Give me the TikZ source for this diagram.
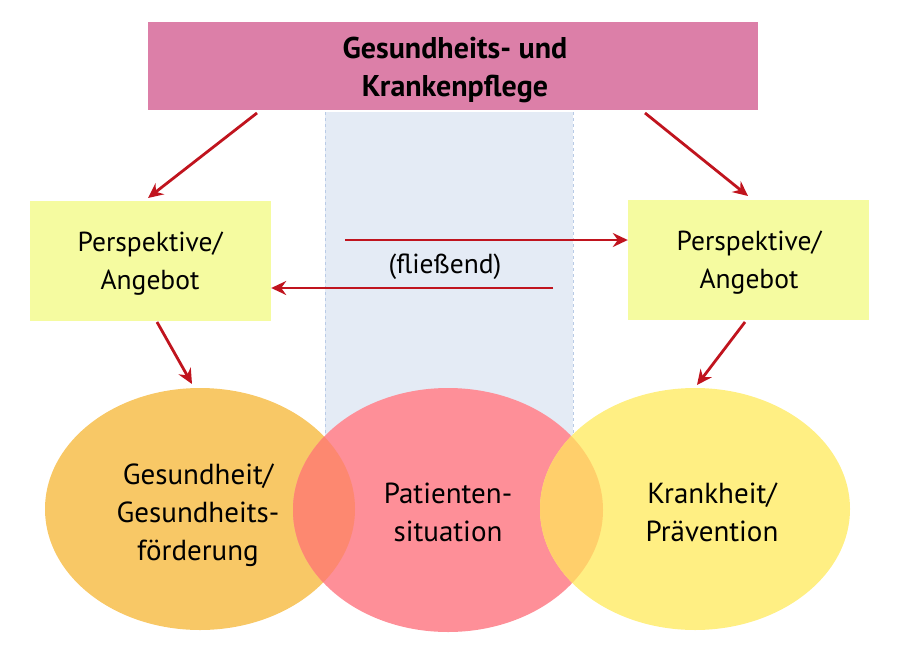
\documentclass[tikz,border=0pt]{standalone}
\usepackage{fontspec}
\setmainfont{PT Sans}
\definecolor{topc}{HTML}{DC7FA8}
\definecolor{boxc}{HTML}{F5FBA0}
\definecolor{bandc}{HTML}{E4EBF5}
\definecolor{bandl}{HTML}{B9CBE6}
\definecolor{arr}{HTML}{C0141E}
\definecolor{lc}{HTML}{F8C866}
\definecolor{mc}{HTML}{FE8F98}
\definecolor{rc}{HTML}{FFEF83}
\definecolor{lmc}{HTML}{FD8870}
\definecolor{mrc}{HTML}{FFCF6B}
\usetikzlibrary{arrows.meta}
\begin{document}
\begin{tikzpicture}[x=1pt,y=-1pt,
  txt/.style={font=\fontsize{29}{38}\selectfont, align=center, inner sep=0pt},
  arrowc/.style={draw=arr, line width=2.8pt, -{Stealth[length=15pt,width=14pt,inset=5pt]}},
  pbox/.style={fill=boxc, minimum width=241pt, minimum height=120pt, inner sep=0pt}]
\useasboundingbox (0,0) rectangle (900,648);
% band
\fill[bandc] (325,112) rectangle (573,440);
\draw[bandl, dashed, line width=0.8pt] (325,112) -- (325,440) (573,112) -- (573,440);
% top
\node[fill=topc, minimum width=610pt, minimum height=88pt, inner sep=0pt] (top) at (453,66) {};
\node[inner sep=0pt, align=center, font=\fontsize{30}{38}\selectfont\bfseries] (toptxt) at (455,70) {Gesundheits- und\\Krankenpflege};
% boxes
\node[pbox] (pl) at (150.5,261) {};
\node[pbox] (pr) at (748.5,260) {};
\node[txt, font=\fontsize{27.5}{38}\selectfont] (plt) at (150,264) {Perspektive/\\Angebot};
\node[txt, font=\fontsize{27.5}{38}\selectfont] (prt) at (749,263) {Perspektive/\\Angebot};
% ellipses
\fill[lc] (200,509) ellipse [x radius=155, y radius=121];
\fill[mc] (448,510) ellipse [x radius=155, y radius=122];
\fill[rc] (695,509) ellipse [x radius=155, y radius=121];
\begin{scope}
\clip (200,509) ellipse [x radius=155, y radius=121];
\fill[lmc] (448,510) ellipse [x radius=155, y radius=122];
\end{scope}
\begin{scope}
\clip (695,509) ellipse [x radius=155, y radius=121];
\fill[mrc] (448,510) ellipse [x radius=155, y radius=122];
\end{scope}
\node[txt] (tl) at (198,515) {Gesundheit/\\Gesundheits-\\förderung};
\node[txt] (tm) at (448,512) {Patienten-\\situation};
\node[txt] (tr) at (712,512) {Krankheit/\\Prävention};
% arrows
\coordinate (a1s) at (257,113);
\coordinate (a2s) at (645,113);
\coordinate (a1e) at (148,198);
\coordinate (a2e) at (748,196);
\draw[arrowc] (a1s) -- (a1e);
\draw[arrowc] (a2s) -- (a2e);
\coordinate (h1s) at (345,240);
\coordinate (h2s) at (553,288);
\draw[arrowc] (h1s) -- (pr.west |- h1s);
\draw[arrowc] (h2s) -- (pl.east |- h2s);
\node[inner sep=0pt, font=\fontsize{27.5}{30}\selectfont] (fl) at (445,267) {(fließend)};
\coordinate (b1s) at (157,322);
\coordinate (b1e) at (192,384);
\coordinate (b2s) at (745,322);
\coordinate (b2e) at (697,385);
\draw[arrowc] (b1s) -- (b1e);
\draw[arrowc] (b2s) -- (b2e);
\end{tikzpicture}
\end{document}
